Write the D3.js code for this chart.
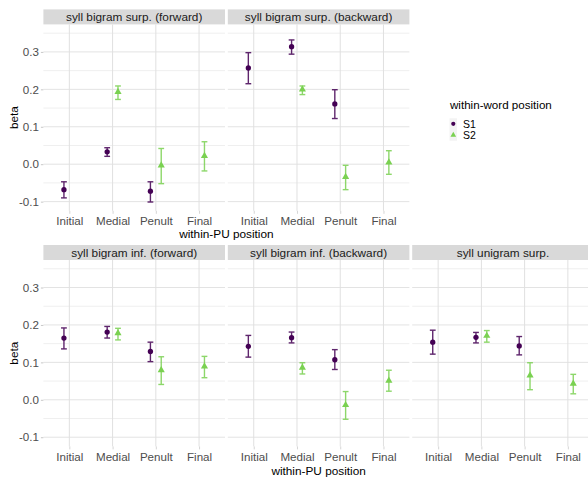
<!DOCTYPE html>
<html>
<head>
<meta charset="utf-8">
<script src="https://cdn.jsdelivr.net/npm/d3@7"></script>
<style>
  html, body { margin: 0; padding: 0; background: #fff; }
  svg { display: block; font-family: "Liberation Sans", Arial, sans-serif; }
</style>
</head>
<body>
<svg id="chart" width="588" height="478"></svg>
<script>
// Categories
const positions = ["Initial", "Medial", "Penult", "Final"];
const syllables = ["S1", "S2"];
const panelTitles = [
  "syll bigram surp. (forward)",
  "syll bigram surp. (backward)",
  "syll bigram inf. (forward)",
  "syll bigram inf. (backward)",
  "syll unigram surp."
];
const yTicks = [-0.1, 0.0, 0.1, 0.2, 0.3];
const yTickLabels = ["-0.1", "0.0", "0.1", "0.2", "0.3"];

// S1 estimates (Initial, Medial, Penult) per panel
const s1Positions = ["Initial", "Medial", "Penult"];
const s1Beta  = [[-0.068, 0.033, -0.072], [0.257, 0.314, 0.161], [0.165, 0.181, 0.129], [0.143, 0.166, 0.107], [0.154, 0.167, 0.144]];
const s1Lower = [[-0.090, 0.021, -0.101], [0.215, 0.294, 0.122], [0.136, 0.165, 0.102], [0.114, 0.152, 0.081], [0.122, 0.152, 0.120]];
const s1Upper = [[-0.047, 0.044, -0.047], [0.298, 0.332, 0.199], [0.192, 0.196, 0.154], [0.172, 0.181, 0.134], [0.186, 0.180, 0.169]];

// S2 estimates (Medial, Penult, Final) per panel
const s2Positions = ["Medial", "Penult", "Final"];
const s2Beta  = [[0.193, -0.003, 0.022], [0.200, -0.034, 0.005], [0.178, 0.079, 0.089], [0.086, -0.014, 0.051], [0.171, 0.065, 0.043]];
const s2Lower = [[0.173, -0.052, -0.018], [0.186, -0.068, -0.027], [0.160, 0.041, 0.059], [0.069, -0.052, 0.023], [0.154, 0.027, 0.016]];
const s2Upper = [[0.209, 0.042, 0.060], [0.209, -0.003, 0.036], [0.191, 0.115, 0.116], [0.099, 0.022, 0.079], [0.185, 0.099, 0.068]];

const colors = { S1: "#440154", S2: "#7AD151" };

const svg = d3.select("#chart");

// Facet layout
const panelW = 181.6, gap = 2.8, left0 = 43.4, stripH = 15;
const rows = [
  { top: 24.4, height: 186.4 },
  { top: 260.0, height: 186.4 }
];
const panelSlots = [
  { row: 0, col: 0 }, { row: 0, col: 1 },
  { row: 1, col: 0 }, { row: 1, col: 1 }, { row: 1, col: 2 }
];

const yDomain = [-0.1245, 0.3735];
const minorTicks = [-0.05, 0.05, 0.15, 0.25, 0.35];

function panelData(pi) {
  const out = [];
  s1Positions.forEach((p, i) => out.push({ syl: "S1", pos: p, beta: s1Beta[pi][i], lo: s1Lower[pi][i], hi: s1Upper[pi][i] }));
  s2Positions.forEach((p, i) => out.push({ syl: "S2", pos: p, beta: s2Beta[pi][i], lo: s2Lower[pi][i], hi: s2Upper[pi][i] }));
  return out;
}

panelSlots.forEach((slot, pi) => {
  const r = rows[slot.row];
  const x0 = left0 + slot.col * (panelW + gap);
  const g = svg.append("g").attr("transform", `translate(${x0},${r.top})`);

  const x = d3.scalePoint().domain(positions).range([0, panelW]).padding(0.6);
  const dodge = d3.scalePoint().domain(syllables).range([-0.125 * x.step(), 0.125 * x.step()]);
  const y = d3.scaleLinear().domain(yDomain).range([r.height, 0]);

  // strip
  g.append("rect").attr("x", 0).attr("y", -stripH).attr("width", panelW).attr("height", stripH)
    .attr("fill", "#d9d9d9");
  g.append("text").attr("x", panelW / 2).attr("y", -stripH / 2).attr("dy", "0.36em")
    .attr("text-anchor", "middle").attr("font-size", 11.8).attr("fill", "#1a1a1a")
    .text(panelTitles[pi]);

  // grid
  g.selectAll(".minor").data(minorTicks).join("line")
    .attr("x1", 0).attr("x2", panelW)
    .attr("y1", d => y(d)).attr("y2", d => y(d))
    .attr("stroke", "#efefef").attr("stroke-width", 1);
  g.selectAll(".major").data(yTicks).join("line")
    .attr("x1", 0).attr("x2", panelW)
    .attr("y1", d => y(d)).attr("y2", d => y(d))
    .attr("stroke", "#e3e3e3").attr("stroke-width", 1);
  g.selectAll(".vgrid").data(positions).join("line")
    .attr("x1", d => x(d)).attr("x2", d => x(d))
    .attr("y1", 0).attr("y2", r.height)
    .attr("stroke", "#e0e0e0").attr("stroke-width", 1);

  // x axis
  const xAxis = d3.axisBottom(x).tickSize(3).tickPadding(3);
  const xg = g.append("g").attr("transform", `translate(0,${r.height})`).call(xAxis);
  xg.select(".domain").remove();
  xg.selectAll(".tick line").attr("stroke", "#d6d6d6");
  xg.selectAll(".tick text").attr("font-size", 11.6).attr("fill", "#4d4d4d")
    .attr("font-family", "Liberation Sans, Arial, sans-serif");

  // y axis on first column
  if (slot.col === 0) {
    const yAxis = d3.axisLeft(y).tickValues(yTicks).tickFormat((d, i) => yTickLabels[i]).tickSize(2.5).tickPadding(2);
    const yg = g.append("g").call(yAxis);
    yg.select(".domain").remove();
    yg.selectAll(".tick line").attr("stroke", "#c8c8c8");
    yg.selectAll(".tick text").attr("font-size", 11.6).attr("fill", "#4d4d4d")
      .attr("font-family", "Liberation Sans, Arial, sans-serif");
  }

  const data = panelData(pi);
  const cap = 2.9;
  const eb = g.append("g").selectAll("g").data(data).join("g")
    .attr("stroke", d => colors[d.syl]).attr("stroke-width", 1.4).attr("opacity", 0.85)
    .attr("transform", d => `translate(${x(d.pos) + dodge(d.syl)},0)`);
  eb.append("line").attr("x1", 0).attr("x2", 0).attr("y1", d => y(d.lo)).attr("y2", d => y(d.hi));
  eb.append("line").attr("x1", -cap).attr("x2", cap).attr("y1", d => y(d.lo)).attr("y2", d => y(d.lo));
  eb.append("line").attr("x1", -cap).attr("x2", cap).attr("y1", d => y(d.hi)).attr("y2", d => y(d.hi));

  const sym = d3.symbol().type(d => d.syl === "S1" ? d3.symbolCircle : d3.symbolTriangle).size(22);
  g.append("g").selectAll("path").data(data).join("path")
    .attr("d", sym)
    .attr("fill", d => colors[d.syl])
    .attr("transform", d => `translate(${x(d.pos) + dodge(d.syl)},${y(d.beta)})`);
});

// axis titles
[
  { cx: left0 + (2 * panelW + gap) / 2, cy: 233.5 },
  { cx: left0 + (3 * panelW + 2 * gap) / 2, cy: 471 }
].forEach(t => {
  svg.append("text").attr("x", t.cx).attr("y", t.cy).attr("dy", "0.36em")
    .attr("text-anchor", "middle").attr("font-size", 11.8).attr("fill", "#000")
    .text("within-PU position");
});
rows.forEach(r => {
  const cy = r.top + r.height / 2;
  svg.append("text").attr("transform", `translate(13.5,${cy}) rotate(-90)`).attr("dy", "0.36em")
    .attr("text-anchor", "middle").attr("font-size", 11.8).attr("fill", "#000")
    .text("beta");
});

// legend
const lg = svg.append("g").attr("transform", "translate(450,0)");
lg.append("text").attr("x", 0).attr("y", 104.5).attr("dy", "0.36em")
  .attr("font-size", 11.6).attr("fill", "#000").text("within-word position");
lg.append("rect").attr("x", -0.5).attr("y", 118.3).attr("width", 7.5).attr("height", 22.4).attr("fill", "#f3f3f3");
syllables.forEach((s, i) => {
  const cy = 123.8 + i * 11.2;
  lg.append("path")
    .attr("d", d3.symbol().type(s === "S1" ? d3.symbolCircle : d3.symbolTriangle).size(14)())
    .attr("fill", colors[s]).attr("transform", `translate(3.3,${cy})`);
  lg.append("text").attr("x", 13).attr("y", cy).attr("dy", "0.36em")
    .attr("font-size", 10.5).attr("fill", "#000").text(s);
});
</script>
</body>
</html>
